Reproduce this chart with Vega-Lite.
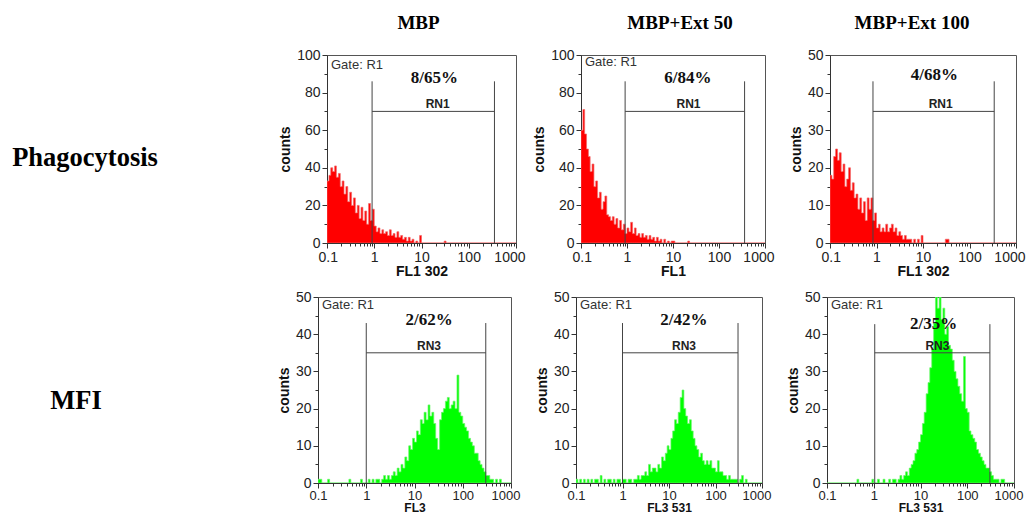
{
"$schema": "https://vega.github.io/schema/vega-lite/v6.json",
"background": "white",
"padding": {"left": 5, "top": 13, "right": 0, "bottom": 0},
"datasets": {
"a": [{"x":0.1,"y":33},{"x":0.11,"y":36},{"x":0.12,"y":40},{"x":0.132,"y":38},{"x":0.145,"y":41},{"x":0.158,"y":35},{"x":0.174,"y":37},{"x":0.191,"y":30},{"x":0.209,"y":33},{"x":0.229,"y":26},{"x":0.251,"y":30},{"x":0.275,"y":22},{"x":0.302,"y":27},{"x":0.331,"y":20},{"x":0.363,"y":24},{"x":0.398,"y":16},{"x":0.437,"y":20},{"x":0.479,"y":13},{"x":0.525,"y":19},{"x":0.575,"y":12},{"x":0.631,"y":17},{"x":0.692,"y":10},{"x":0.759,"y":21},{"x":0.832,"y":12},{"x":0.912,"y":18},{"x":1,"y":9},{"x":1.1,"y":6},{"x":1.2,"y":8},{"x":1.32,"y":5},{"x":1.45,"y":7},{"x":1.58,"y":5},{"x":1.74,"y":6},{"x":1.91,"y":4},{"x":2.09,"y":7},{"x":2.29,"y":4},{"x":2.51,"y":5},{"x":2.75,"y":3},{"x":3.02,"y":6},{"x":3.31,"y":3},{"x":3.63,"y":4},{"x":3.98,"y":2},{"x":4.37,"y":3},{"x":4.79,"y":1},{"x":5.25,"y":3},{"x":5.75,"y":1},{"x":6.31,"y":2},{"x":6.92,"y":0},{"x":7.59,"y":1},{"x":8.32,"y":0},{"x":9.12,"y":4},{"x":10,"y":0},{"x":30.2,"y":1},{"x":33.1,"y":0},{"x":1000,"y":0}],
"b": [{"x":0.1,"y":60},{"x":0.11,"y":71},{"x":0.12,"y":58},{"x":0.132,"y":50},{"x":0.145,"y":46},{"x":0.158,"y":38},{"x":0.174,"y":42},{"x":0.191,"y":30},{"x":0.209,"y":33},{"x":0.229,"y":24},{"x":0.251,"y":27},{"x":0.275,"y":18},{"x":0.302,"y":22},{"x":0.331,"y":25},{"x":0.363,"y":15},{"x":0.398,"y":14},{"x":0.437,"y":12},{"x":0.479,"y":14},{"x":0.525,"y":10},{"x":0.575,"y":13},{"x":0.631,"y":8},{"x":0.692,"y":12},{"x":0.759,"y":7},{"x":0.832,"y":10},{"x":0.912,"y":5},{"x":1,"y":8},{"x":1.1,"y":6},{"x":1.2,"y":11},{"x":1.32,"y":5},{"x":1.45,"y":8},{"x":1.58,"y":4},{"x":1.74,"y":5},{"x":1.91,"y":3},{"x":2.09,"y":5},{"x":2.29,"y":3},{"x":2.51,"y":4},{"x":2.75,"y":2},{"x":3.02,"y":4},{"x":3.31,"y":2},{"x":3.63,"y":3},{"x":3.98,"y":1},{"x":4.37,"y":3},{"x":4.79,"y":1},{"x":5.25,"y":2},{"x":5.75,"y":0},{"x":6.31,"y":2},{"x":6.92,"y":0},{"x":7.59,"y":1},{"x":8.32,"y":0},{"x":9.12,"y":1},{"x":10,"y":1},{"x":11,"y":0},{"x":20.9,"y":1},{"x":22.9,"y":0},{"x":1000,"y":0}],
"c": [{"x":0.1,"y":18},{"x":0.11,"y":17},{"x":0.12,"y":23},{"x":0.132,"y":25},{"x":0.145,"y":22},{"x":0.158,"y":24},{"x":0.174,"y":19},{"x":0.191,"y":21},{"x":0.209,"y":15},{"x":0.229,"y":17},{"x":0.251,"y":20},{"x":0.275,"y":14},{"x":0.302,"y":16},{"x":0.331,"y":12},{"x":0.363,"y":13},{"x":0.398,"y":9},{"x":0.437,"y":12},{"x":0.479,"y":8},{"x":0.525,"y":11},{"x":0.575,"y":6},{"x":0.631,"y":12},{"x":0.692,"y":9},{"x":0.759,"y":12},{"x":0.832,"y":6},{"x":0.912,"y":8},{"x":1,"y":4},{"x":1.1,"y":5},{"x":1.2,"y":3},{"x":1.32,"y":4},{"x":1.45,"y":3},{"x":1.58,"y":5},{"x":1.74,"y":3},{"x":1.91,"y":4},{"x":2.09,"y":5},{"x":2.29,"y":3},{"x":2.51,"y":4},{"x":2.75,"y":2},{"x":3.02,"y":3},{"x":3.31,"y":2},{"x":3.63,"y":1},{"x":3.98,"y":2},{"x":4.37,"y":1},{"x":4.79,"y":1},{"x":5.25,"y":1},{"x":5.75,"y":0},{"x":6.31,"y":1},{"x":6.92,"y":0},{"x":7.59,"y":1},{"x":8.32,"y":0},{"x":9.12,"y":2},{"x":10,"y":0},{"x":30.2,"y":1},{"x":33.1,"y":1},{"x":36.3,"y":0},{"x":1000,"y":0}],
"d": [{"x":0.1,"y":1},{"x":0.11,"y":1},{"x":0.12,"y":0},{"x":0.158,"y":1},{"x":0.174,"y":0},{"x":0.437,"y":1},{"x":0.479,"y":0},{"x":0.759,"y":1},{"x":0.832,"y":0},{"x":1,"y":0},{"x":1.1,"y":1},{"x":1.2,"y":0},{"x":1.32,"y":1},{"x":1.45,"y":0},{"x":1.58,"y":1},{"x":1.74,"y":1},{"x":1.91,"y":0},{"x":2.09,"y":1},{"x":2.29,"y":2},{"x":2.51,"y":1},{"x":2.75,"y":2},{"x":3.02,"y":1},{"x":3.31,"y":2},{"x":3.63,"y":3},{"x":3.98,"y":2},{"x":4.37,"y":4},{"x":4.79,"y":3},{"x":5.25,"y":5},{"x":5.75,"y":4},{"x":6.31,"y":7},{"x":6.92,"y":6},{"x":7.59,"y":10},{"x":8.32,"y":9},{"x":9.12,"y":12},{"x":10,"y":11},{"x":11,"y":14},{"x":12,"y":13},{"x":13.2,"y":17},{"x":14.5,"y":16},{"x":15.8,"y":19},{"x":17.4,"y":17},{"x":19.1,"y":21},{"x":20.9,"y":18},{"x":22.9,"y":19},{"x":25.1,"y":16},{"x":27.5,"y":12},{"x":30.2,"y":9},{"x":33.1,"y":17},{"x":36.3,"y":19},{"x":39.8,"y":20},{"x":43.7,"y":22},{"x":47.9,"y":23},{"x":52.5,"y":20},{"x":57.5,"y":21},{"x":63.1,"y":22},{"x":69.2,"y":20},{"x":75.9,"y":29},{"x":83.2,"y":19},{"x":91.2,"y":18},{"x":100,"y":16},{"x":110,"y":15},{"x":120,"y":14},{"x":132,"y":12},{"x":145,"y":11},{"x":158,"y":10},{"x":174,"y":8},{"x":191,"y":8},{"x":209,"y":6},{"x":229,"y":5},{"x":251,"y":4},{"x":275,"y":3},{"x":302,"y":2},{"x":331,"y":2},{"x":363,"y":1},{"x":398,"y":1},{"x":437,"y":0},{"x":479,"y":1},{"x":525,"y":0},{"x":575,"y":1},{"x":631,"y":0},{"x":1000,"y":0}],
"e": [{"x":0.1,"y":1},{"x":0.11,"y":0},{"x":0.12,"y":1},{"x":0.132,"y":0},{"x":0.145,"y":1},{"x":0.158,"y":0},{"x":0.174,"y":1},{"x":0.191,"y":0},{"x":0.209,"y":1},{"x":0.229,"y":0},{"x":0.251,"y":1},{"x":0.302,"y":0},{"x":0.331,"y":2},{"x":0.363,"y":0},{"x":0.398,"y":1},{"x":0.437,"y":0},{"x":0.479,"y":1},{"x":0.525,"y":1},{"x":0.575,"y":0},{"x":0.631,"y":1},{"x":0.692,"y":0},{"x":0.759,"y":1},{"x":0.832,"y":1},{"x":0.912,"y":0},{"x":1,"y":1},{"x":1.1,"y":1},{"x":1.2,"y":0},{"x":1.32,"y":1},{"x":1.45,"y":1},{"x":1.58,"y":0},{"x":1.74,"y":1},{"x":1.91,"y":1},{"x":2.09,"y":2},{"x":2.29,"y":1},{"x":2.51,"y":2},{"x":2.75,"y":2},{"x":3.02,"y":3},{"x":3.31,"y":2},{"x":3.63,"y":5},{"x":3.98,"y":3},{"x":4.37,"y":4},{"x":4.79,"y":4},{"x":5.25,"y":3},{"x":5.75,"y":5},{"x":6.31,"y":4},{"x":6.92,"y":7},{"x":7.59,"y":6},{"x":8.32,"y":8},{"x":9.12,"y":10},{"x":10,"y":9},{"x":11,"y":12},{"x":12,"y":14},{"x":13.2,"y":17},{"x":14.5,"y":16},{"x":15.8,"y":19},{"x":17.4,"y":23},{"x":19.1,"y":25},{"x":20.9,"y":20},{"x":22.9,"y":18},{"x":25.1,"y":16},{"x":27.5,"y":17},{"x":30.2,"y":14},{"x":33.1,"y":12},{"x":36.3,"y":10},{"x":39.8,"y":9},{"x":43.7,"y":7},{"x":47.9,"y":8},{"x":52.5,"y":6},{"x":57.5,"y":5},{"x":63.1,"y":6},{"x":69.2,"y":5},{"x":75.9,"y":6},{"x":83.2,"y":4},{"x":91.2,"y":4},{"x":100,"y":3},{"x":110,"y":6},{"x":120,"y":3},{"x":132,"y":3},{"x":145,"y":2},{"x":158,"y":2},{"x":174,"y":1},{"x":191,"y":2},{"x":209,"y":1},{"x":229,"y":1},{"x":251,"y":1},{"x":275,"y":1},{"x":302,"y":0},{"x":331,"y":1},{"x":363,"y":2},{"x":398,"y":0},{"x":437,"y":1},{"x":479,"y":0},{"x":1000,"y":0}],
"f": [{"x":0.1,"y":0},{"x":0.437,"y":1},{"x":0.479,"y":0},{"x":0.912,"y":1},{"x":1,"y":0},{"x":1.2,"y":1},{"x":1.32,"y":0},{"x":1.58,"y":1},{"x":1.74,"y":0},{"x":2.09,"y":1},{"x":2.29,"y":0},{"x":2.51,"y":1},{"x":2.75,"y":1},{"x":3.02,"y":0},{"x":3.31,"y":1},{"x":3.63,"y":2},{"x":3.98,"y":1},{"x":4.37,"y":2},{"x":4.79,"y":3},{"x":5.25,"y":2},{"x":5.75,"y":4},{"x":6.31,"y":5},{"x":6.92,"y":6},{"x":7.59,"y":8},{"x":8.32,"y":9},{"x":9.12,"y":11},{"x":10,"y":13},{"x":11,"y":16},{"x":12,"y":19},{"x":13.2,"y":24},{"x":14.5,"y":27},{"x":15.8,"y":31},{"x":17.4,"y":36},{"x":19.1,"y":43},{"x":20.9,"y":50},{"x":22.9,"y":47},{"x":25.1,"y":50},{"x":27.5,"y":44},{"x":30.2,"y":47},{"x":33.1,"y":40},{"x":36.3,"y":42},{"x":39.8,"y":37},{"x":43.7,"y":36},{"x":47.9,"y":33},{"x":52.5,"y":30},{"x":57.5,"y":28},{"x":63.1,"y":26},{"x":69.2,"y":24},{"x":75.9,"y":22},{"x":83.2,"y":34},{"x":91.2,"y":20},{"x":100,"y":19},{"x":110,"y":14},{"x":120,"y":13},{"x":132,"y":12},{"x":145,"y":11},{"x":158,"y":9},{"x":174,"y":8},{"x":191,"y":7},{"x":209,"y":6},{"x":229,"y":5},{"x":251,"y":4},{"x":275,"y":4},{"x":302,"y":3},{"x":331,"y":2},{"x":363,"y":1},{"x":398,"y":1},{"x":437,"y":1},{"x":479,"y":0},{"x":525,"y":1},{"x":575,"y":1},{"x":631,"y":0},{"x":1000,"y":0}]
},
"spacing": 10,
"vconcat": [
{"spacing": 65, "bounds": "flush", "hconcat": [
 {"width": 257, "height": 188, "view": {"stroke": null}, "data": {"values": [{"t": "Phagocytosis"}]}, "mark": {"type": "text", "font": "Liberation Serif", "fontSize": 26.5, "fontWeight": "bold", "color": "#000", "dx": -48.5, "dy": 9}, "encoding": {"text": {"field": "t"}}},
 {"width": 189, "height": 188, "title": {"text": "MBP", "dx": -3},
  "encoding": {
   "x": {"field": "x", "type": "quantitative", "scale": {"type": "log", "domain": [0.1, 1000], "nice": false}, "axis": {"title": "FL1  302", "values": [0.1,0.2,0.3,0.4,0.5,0.6,0.7,0.8,0.9,1,2,3,4,5,6,7,8,9,10,20,30,40,50,60,70,80,90,100,200,300,400,500,600,700,800,900,1000], "labelExpr": "abs(log(datum.value)/LN10 - round(log(datum.value)/LN10)) < 0.000001 ? format(datum.value, '~g') : ''", "tickSize": {"condition": {"test": "abs(log(datum.value)/LN10 - round(log(datum.value)/LN10)) < 0.000001", "value": 5}, "value": 3}}},
   "y": {"field": "y", "type": "quantitative", "scale": {"domain": [0, 100], "nice": false}, "axis": {"title": "counts", "values": [0,10,20,30,40,50,60,70,80,90,100], "labelExpr": "datum.value % 20 === 0 ? datum.label : ''", "tickSize": {"condition": {"test": "datum.value % 20 === 0", "value": 5}, "value": 3}}}
  },
  "layer": [
   {"data": {"name": "a"}, "mark": {"type": "area", "interpolate": "step-after", "color": "#ff0000", "stroke": "#f06a6a", "strokeWidth": 0.7, "clip": true}},
   {"data": {"values": [{"x": 0.9, "x2": 0.9, "y": 0, "y2": 86}, {"x": 350, "x2": 350, "y": 0, "y2": 86}, {"x": 0.9, "x2": 350, "y": 70, "y2": 70}]}, "mark": {"type": "rule", "color": "#444"}, "encoding": {"x2": {"field": "x2"}, "y2": {"field": "y2"}}},
   {"data": {"values": [{"x": 22, "y": 70, "t": "RN1"}]}, "mark": {"type": "text", "font": "Liberation Sans", "fontSize": 12, "fontWeight": "bold", "baseline": "alphabetic", "dy": -3, "color": "#222"}, "encoding": {"text": {"field": "t"}}},
   {"data": {"values": [{"x": 18.8, "y": 88, "t": "8/65%"}]}, "mark": {"type": "text", "font": "Liberation Serif", "fontSize": 17, "fontWeight": "bold", "baseline": "middle", "color": "#111"}, "encoding": {"text": {"field": "t"}}},
   {"data": {"values": [{"x": 0.1, "y": 100, "t": "Gate: R1"}]}, "mark": {"type": "text", "font": "Liberation Sans", "fontSize": 13, "align": "left", "baseline": "top", "dx": 4, "dy": 4, "color": "#333"}, "encoding": {"text": {"field": "t"}}}
  ]},
 {"width": 184, "height": 188, "title": {"text": "MBP+Ext 50", "dx": 7},
  "encoding": {
   "x": {"field": "x", "type": "quantitative", "scale": {"type": "log", "domain": [0.1, 1000], "nice": false}, "axis": {"title": "FL1", "values": [0.1,0.2,0.3,0.4,0.5,0.6,0.7,0.8,0.9,1,2,3,4,5,6,7,8,9,10,20,30,40,50,60,70,80,90,100,200,300,400,500,600,700,800,900,1000], "labelExpr": "abs(log(datum.value)/LN10 - round(log(datum.value)/LN10)) < 0.000001 ? format(datum.value, '~g') : ''", "tickSize": {"condition": {"test": "abs(log(datum.value)/LN10 - round(log(datum.value)/LN10)) < 0.000001", "value": 5}, "value": 3}}},
   "y": {"field": "y", "type": "quantitative", "scale": {"domain": [0, 100], "nice": false}, "axis": {"title": "counts", "values": [0,10,20,30,40,50,60,70,80,90,100], "labelExpr": "datum.value % 20 === 0 ? datum.label : ''", "tickSize": {"condition": {"test": "datum.value % 20 === 0", "value": 5}, "value": 3}}}
  },
  "layer": [
   {"data": {"name": "b"}, "mark": {"type": "area", "interpolate": "step-after", "color": "#ff0000", "stroke": "#f06a6a", "strokeWidth": 0.7, "clip": true}},
   {"data": {"values": [{"x": 0.91, "x2": 0.91, "y": 0, "y2": 86}, {"x": 360, "x2": 360, "y": 0, "y2": 86}, {"x": 0.91, "x2": 360, "y": 70, "y2": 70}]}, "mark": {"type": "rule", "color": "#444"}, "encoding": {"x2": {"field": "x2"}, "y2": {"field": "y2"}}},
   {"data": {"values": [{"x": 21.7, "y": 70, "t": "RN1"}]}, "mark": {"type": "text", "font": "Liberation Sans", "fontSize": 12, "fontWeight": "bold", "baseline": "alphabetic", "dy": -3, "color": "#222"}, "encoding": {"text": {"field": "t"}}},
   {"data": {"values": [{"x": 21, "y": 88, "t": "6/84%"}]}, "mark": {"type": "text", "font": "Liberation Serif", "fontSize": 17, "fontWeight": "bold", "baseline": "middle", "color": "#111"}, "encoding": {"text": {"field": "t"}}},
   {"data": {"values": [{"x": 0.1, "y": 100, "t": "Gate: R1"}]}, "mark": {"type": "text", "font": "Liberation Sans", "fontSize": 13, "align": "left", "baseline": "top", "dx": 4, "dy": 1, "color": "#333"}, "encoding": {"text": {"field": "t"}}}
  ]},
 {"width": 186, "height": 188, "title": {"text": "MBP+Ext 100", "dx": -11},
  "encoding": {
   "x": {"field": "x", "type": "quantitative", "scale": {"type": "log", "domain": [0.1, 1000], "nice": false}, "axis": {"title": "FL1  302", "values": [0.1,0.2,0.3,0.4,0.5,0.6,0.7,0.8,0.9,1,2,3,4,5,6,7,8,9,10,20,30,40,50,60,70,80,90,100,200,300,400,500,600,700,800,900,1000], "labelExpr": "abs(log(datum.value)/LN10 - round(log(datum.value)/LN10)) < 0.000001 ? format(datum.value, '~g') : ''", "tickSize": {"condition": {"test": "abs(log(datum.value)/LN10 - round(log(datum.value)/LN10)) < 0.000001", "value": 5}, "value": 3}}},
   "y": {"field": "y", "type": "quantitative", "scale": {"domain": [0, 50], "nice": false}, "axis": {"title": "counts", "values": [0,5,10,15,20,25,30,35,40,45,50], "labelExpr": "datum.value % 10 === 0 ? datum.label : ''", "tickSize": {"condition": {"test": "datum.value % 10 === 0", "value": 5}, "value": 3}}}
  },
  "layer": [
   {"data": {"name": "c"}, "mark": {"type": "area", "interpolate": "step-after", "color": "#ff0000", "stroke": "#f06a6a", "strokeWidth": 0.7, "clip": true}},
   {"data": {"values": [{"x": 0.84, "x2": 0.84, "y": 0, "y2": 43}, {"x": 340, "x2": 340, "y": 0, "y2": 43}, {"x": 0.84, "x2": 340, "y": 35, "y2": 35}]}, "mark": {"type": "rule", "color": "#444"}, "encoding": {"x2": {"field": "x2"}, "y2": {"field": "y2"}}},
   {"data": {"values": [{"x": 24, "y": 35, "t": "RN1"}]}, "mark": {"type": "text", "font": "Liberation Sans", "fontSize": 12, "fontWeight": "bold", "baseline": "alphabetic", "dy": -3, "color": "#222"}, "encoding": {"text": {"field": "t"}}},
   {"data": {"values": [{"x": 17.5, "y": 44.6, "t": "4/68%"}]}, "mark": {"type": "text", "font": "Liberation Serif", "fontSize": 17, "fontWeight": "bold", "baseline": "middle", "color": "#111"}, "encoding": {"text": {"field": "t"}}}
  ]}
]},
{"spacing": 65, "bounds": "flush", "hconcat": [
 {"width": 248, "height": 186, "view": {"stroke": null}, "data": {"values": [{"t": "MFI"}]}, "mark": {"type": "text", "font": "Liberation Serif", "fontSize": 26.5, "fontWeight": "bold", "color": "#000", "dx": -53, "dy": 11}, "encoding": {"text": {"field": "t"}}},
 {"width": 193, "height": 186,
  "encoding": {
   "x": {"field": "x", "type": "quantitative", "scale": {"type": "log", "domain": [0.1, 1000], "nice": false}, "axis": {"title": "FL3", "titleFontSize": 12, "titlePadding": 0, "labelFontSize": 13, "labelPadding": 1, "values": [0.1,0.2,0.3,0.4,0.5,0.6,0.7,0.8,0.9,1,2,3,4,5,6,7,8,9,10,20,30,40,50,60,70,80,90,100,200,300,400,500,600,700,800,900,1000], "labelExpr": "abs(log(datum.value)/LN10 - round(log(datum.value)/LN10)) < 0.000001 ? format(datum.value, '~g') : ''", "tickSize": {"condition": {"test": "abs(log(datum.value)/LN10 - round(log(datum.value)/LN10)) < 0.000001", "value": 5}, "value": 3}}},
   "y": {"field": "y", "type": "quantitative", "scale": {"domain": [0, 50], "nice": false}, "axis": {"title": "counts", "values": [0,5,10,15,20,25,30,35,40,45,50], "labelExpr": "datum.value % 10 === 0 ? datum.label : ''", "tickSize": {"condition": {"test": "datum.value % 10 === 0", "value": 5}, "value": 3}}}
  },
  "layer": [
   {"data": {"name": "d"}, "mark": {"type": "area", "interpolate": "step-after", "color": "#00ff00", "stroke": "#6cf56c", "strokeWidth": 0.7, "clip": true}},
   {"data": {"values": [{"x": 1, "x2": 1, "y": 0, "y2": 43}, {"x": 300, "x2": 300, "y": 0, "y2": 43}, {"x": 1, "x2": 300, "y": 35, "y2": 35}]}, "mark": {"type": "rule", "color": "#444"}, "encoding": {"x2": {"field": "x2"}, "y2": {"field": "y2"}}},
   {"data": {"values": [{"x": 20, "y": 35, "t": "RN3"}]}, "mark": {"type": "text", "font": "Liberation Sans", "fontSize": 12, "fontWeight": "bold", "baseline": "alphabetic", "dy": -3, "color": "#222"}, "encoding": {"text": {"field": "t"}}},
   {"data": {"values": [{"x": 20, "y": 43.9, "t": "2/62%"}]}, "mark": {"type": "text", "font": "Liberation Serif", "fontSize": 17, "fontWeight": "bold", "baseline": "middle", "color": "#111"}, "encoding": {"text": {"field": "t"}}},
   {"data": {"values": [{"x": 0.1, "y": 50, "t": "Gate: R1"}]}, "mark": {"type": "text", "font": "Liberation Sans", "fontSize": 13, "align": "left", "baseline": "top", "dx": 4, "dy": 2, "color": "#333"}, "encoding": {"text": {"field": "t"}}}
  ]},
 {"width": 186, "height": 186,
  "encoding": {
   "x": {"field": "x", "type": "quantitative", "scale": {"type": "log", "domain": [0.1, 1000], "nice": false}, "axis": {"title": "FL3  531", "titleFontSize": 12, "titlePadding": 0, "labelFontSize": 13, "labelPadding": 1, "values": [0.1,0.2,0.3,0.4,0.5,0.6,0.7,0.8,0.9,1,2,3,4,5,6,7,8,9,10,20,30,40,50,60,70,80,90,100,200,300,400,500,600,700,800,900,1000], "labelExpr": "abs(log(datum.value)/LN10 - round(log(datum.value)/LN10)) < 0.000001 ? format(datum.value, '~g') : ''", "tickSize": {"condition": {"test": "abs(log(datum.value)/LN10 - round(log(datum.value)/LN10)) < 0.000001", "value": 5}, "value": 3}}},
   "y": {"field": "y", "type": "quantitative", "scale": {"domain": [0, 50], "nice": false}, "axis": {"title": "counts", "values": [0,5,10,15,20,25,30,35,40,45,50], "labelExpr": "datum.value % 10 === 0 ? datum.label : ''", "tickSize": {"condition": {"test": "datum.value % 10 === 0", "value": 5}, "value": 3}}}
  },
  "layer": [
   {"data": {"name": "e"}, "mark": {"type": "area", "interpolate": "step-after", "color": "#00ff00", "stroke": "#6cf56c", "strokeWidth": 0.7, "clip": true}},
   {"data": {"values": [{"x": 1, "x2": 1, "y": 0, "y2": 43}, {"x": 305, "x2": 305, "y": 0, "y2": 43}, {"x": 1, "x2": 305, "y": 35, "y2": 35}]}, "mark": {"type": "rule", "color": "#444"}, "encoding": {"x2": {"field": "x2"}, "y2": {"field": "y2"}}},
   {"data": {"values": [{"x": 21, "y": 35, "t": "RN3"}]}, "mark": {"type": "text", "font": "Liberation Sans", "fontSize": 12, "fontWeight": "bold", "baseline": "alphabetic", "dy": -3, "color": "#222"}, "encoding": {"text": {"field": "t"}}},
   {"data": {"values": [{"x": 21, "y": 43.7, "t": "2/42%"}]}, "mark": {"type": "text", "font": "Liberation Serif", "fontSize": 17, "fontWeight": "bold", "baseline": "middle", "color": "#111"}, "encoding": {"text": {"field": "t"}}},
   {"data": {"values": [{"x": 0.1, "y": 50, "t": "Gate: R1"}]}, "mark": {"type": "text", "font": "Liberation Sans", "fontSize": 13, "align": "left", "baseline": "top", "dx": 4, "dy": 2, "color": "#333"}, "encoding": {"text": {"field": "t"}}}
  ]},
 {"width": 187, "height": 186,
  "encoding": {
   "x": {"field": "x", "type": "quantitative", "scale": {"type": "log", "domain": [0.1, 1000], "nice": false}, "axis": {"title": "FL3  531", "titleFontSize": 12, "titlePadding": 0, "labelFontSize": 13, "labelPadding": 1, "values": [0.1,0.2,0.3,0.4,0.5,0.6,0.7,0.8,0.9,1,2,3,4,5,6,7,8,9,10,20,30,40,50,60,70,80,90,100,200,300,400,500,600,700,800,900,1000], "labelExpr": "abs(log(datum.value)/LN10 - round(log(datum.value)/LN10)) < 0.000001 ? format(datum.value, '~g') : ''", "tickSize": {"condition": {"test": "abs(log(datum.value)/LN10 - round(log(datum.value)/LN10)) < 0.000001", "value": 5}, "value": 3}}},
   "y": {"field": "y", "type": "quantitative", "scale": {"domain": [0, 50], "nice": false}, "axis": {"title": "counts", "values": [0,5,10,15,20,25,30,35,40,45,50], "labelExpr": "datum.value % 10 === 0 ? datum.label : ''", "tickSize": {"condition": {"test": "datum.value % 10 === 0", "value": 5}, "value": 3}}}
  },
  "layer": [
   {"data": {"name": "f"}, "mark": {"type": "area", "interpolate": "step-after", "color": "#00ff00", "stroke": "#6cf56c", "strokeWidth": 0.7, "clip": true}},
   {"data": {"values": [{"x": 1.05, "x2": 1.05, "y": 0, "y2": 42.7}, {"x": 305, "x2": 305, "y": 0, "y2": 42.7}, {"x": 1.05, "x2": 305, "y": 35, "y2": 35}]}, "mark": {"type": "rule", "color": "#444"}, "encoding": {"x2": {"field": "x2"}, "y2": {"field": "y2"}}},
   {"data": {"values": [{"x": 23, "y": 35, "t": "RN3"}]}, "mark": {"type": "text", "font": "Liberation Sans", "fontSize": 12, "fontWeight": "bold", "baseline": "alphabetic", "dy": -3, "color": "#222"}, "encoding": {"text": {"field": "t"}}},
   {"data": {"values": [{"x": 19, "y": 42.7, "t": "2/35%"}]}, "mark": {"type": "text", "font": "Liberation Serif", "fontSize": 17, "fontWeight": "bold", "baseline": "middle", "color": "#111"}, "encoding": {"text": {"field": "t"}}},
   {"data": {"values": [{"x": 0.1, "y": 50, "t": "Gate: R1"}]}, "mark": {"type": "text", "font": "Liberation Sans", "fontSize": 13, "align": "left", "baseline": "top", "dx": 4, "dy": 2, "color": "#333"}, "encoding": {"text": {"field": "t"}}}
  ]}
]}
],
"config": {
 "view": {"stroke": "#555", "strokeWidth": 1},
 "axis": {"labelFont": "Liberation Sans", "labelFontSize": 14, "labelColor": "#222", "titleFont": "Liberation Sans", "titleFontSize": 14, "titleFontWeight": "bold", "titleColor": "#111", "domainColor": "#333", "tickColor": "#333", "grid": false, "labelOverlap": false, "labelFlush": false, "labelBound": false, "labelPadding": 2},
 "axisX": {"titlePadding": 0, "labelFlush": true, "labelFlushOffset": 9},
 "axisY": {"titlePadding": 4},
 "title": {"font": "Liberation Serif", "fontSize": 19, "fontWeight": "bold", "color": "#000", "offset": 15, "anchor": "middle", "frame": "group"}
}
}
